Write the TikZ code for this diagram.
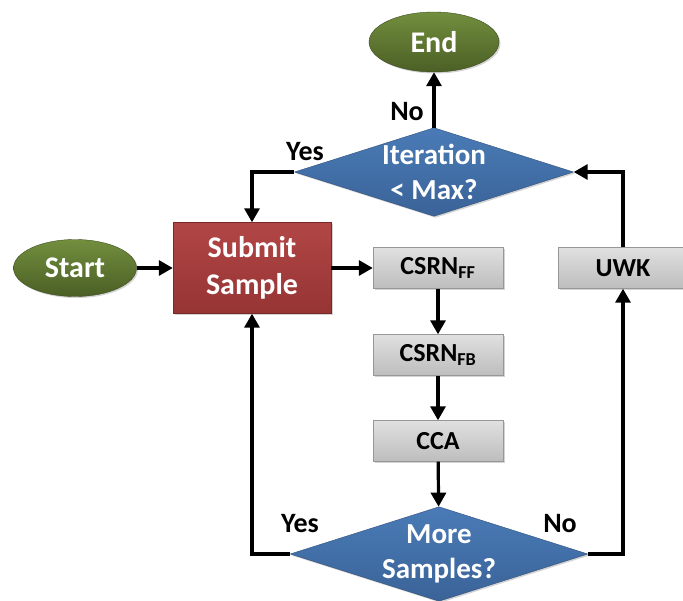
\documentclass[tikz,border=0pt]{standalone}
\usepackage{fontspec}
\setmainfont{Carlito}
\usetikzlibrary{shapes.geometric,arrows.meta,shadows}
\definecolor{termtop}{HTML}{728E3E}
\definecolor{termbot}{HTML}{4B5F25}
\definecolor{decitop}{HTML}{4A7BB6}
\definecolor{decibot}{HTML}{3A6398}
\definecolor{proctop}{HTML}{B24646}
\definecolor{procbot}{HTML}{963434}
\definecolor{steptop}{HTML}{E0E0E0}
\definecolor{stepbot}{HTML}{BDBDBD}
\tikzset{
  shade/.style={drop shadow={opacity=0.35,shadow xshift=1.5pt,shadow yshift=-1.5pt}},
  terminal/.style={ellipse,shade,top color=termtop,bottom color=termbot,draw=termbot!80!black,line width=0.4pt,
    text=white,font=\fontsize{30}{32}\selectfont\bfseries,inner sep=0pt},
  decision/.style={diamond,shade,top color=decitop,bottom color=decibot,draw=decibot!80!black,line width=0.4pt,
    text=white,font=\fontsize{29}{35}\selectfont\bfseries,align=center,inner sep=0pt,aspect=3.15},
  process/.style={rectangle,shade,top color=proctop,bottom color=procbot,draw=procbot!80!black,line width=0.4pt,
    text=white,font=\fontsize{30}{37}\selectfont\bfseries,align=center,minimum width=158pt,minimum height=91pt},
  stepbox/.style={rectangle,shade,top color=steptop,bottom color=stepbot,draw=stepbot!80!black,line width=0.4pt,
    text=black,font=\fontsize{26}{27}\selectfont\bfseries,minimum width=130pt,minimum height=41pt,inner sep=0pt},
  flow/.style={line width=3.2pt,-{Triangle[width=15pt,length=14pt]}},
  answer/.style={font=\fontsize{28}{29}\selectfont\bfseries,text=black}
}
\begin{document}
\begin{tikzpicture}[x=1pt,y=-1pt]
  \useasboundingbox (0,0) rectangle (683,600);
  % nodes
  \node[terminal,minimum width=130pt,minimum height=60pt] (end) at (434,42) {End};
  \node[decision,minimum width=277pt,minimum height=88pt] (iter) at (434,172) {Iteration\\ {<} Max?};
  \node[terminal,minimum width=123pt,minimum height=57pt] (start) at (75,268) {Start};
  \node[process] (submit) at (252,268) {Submit\\ Sample};
  \node[stepbox] (ff) at (438,268) {CSRN\textsubscript{FF}};
  \node[stepbox] (fb) at (438,355) {CSRN\textsubscript{FB}};
  \node[stepbox] (cca) at (438,441) {CCA};
  \node[stepbox] (uwk) at (623,268) {UWK};
  \node[decision,minimum width=288pt,minimum height=92pt] (more) at (439,554) {More\\ Samples?};
  % connectors
  \draw[flow] (start) -- (submit);
  \draw[flow] (submit) -- (ff);
  \draw[flow] (ff) -- (fb);
  \draw[flow] (fb) -- (cca);
  \draw[flow] (cca) -- (more);
  \draw[flow] (more.west) -| (submit.south);
  \draw[flow] (more.east) -| (uwk.south);
  \draw[flow] (uwk.north) |- (iter.east);
  \draw[flow] (iter.west) -| (submit.north);
  \draw[flow] (iter.north) -- (end.south);
  % branch labels
  \node[answer] (noend) at (407,112) {No};
  \node[answer] (yesit) at (305,152) {Yes};
  \node[answer] (yesmore) at (300,524) {Yes};
  \node[answer] (nomore) at (560,524) {No};
\end{tikzpicture}
\end{document}
